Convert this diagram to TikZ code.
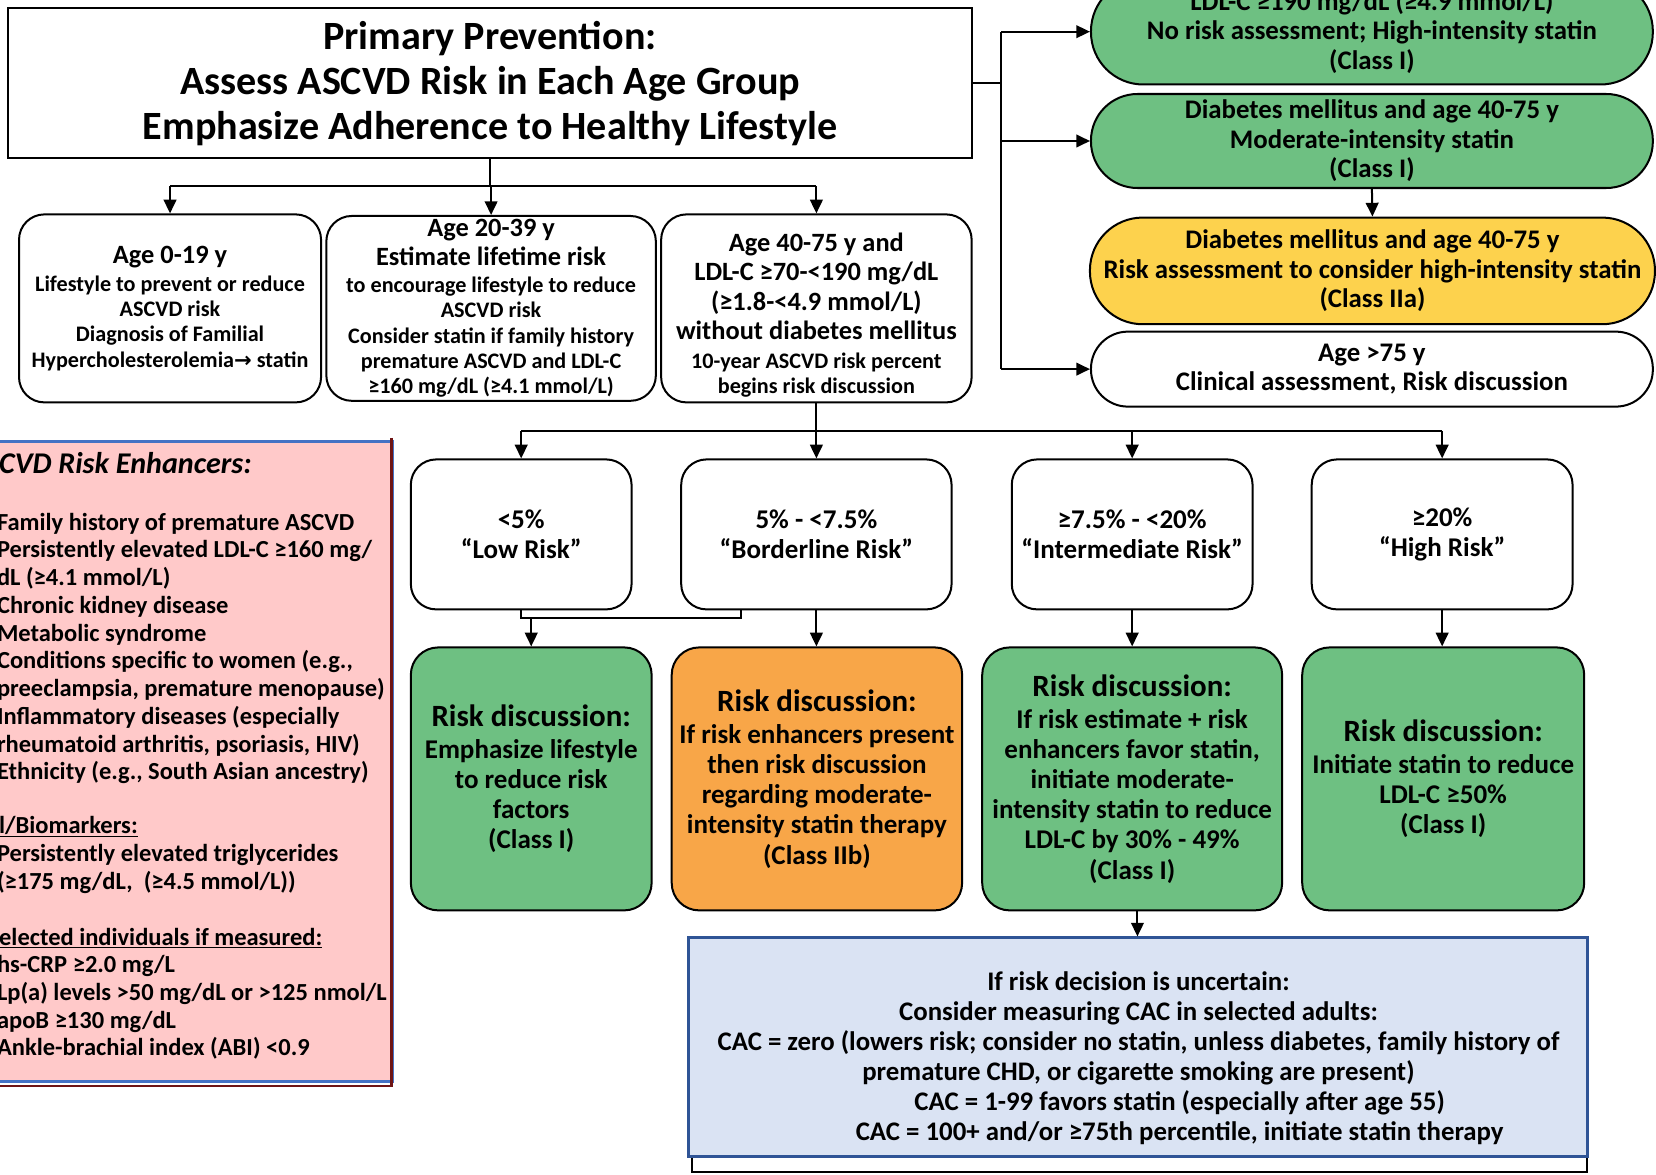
\documentclass[tikz,border=0pt]{standalone}
\usepackage{fontspec}
\setmainfont{Carlito}
\newfontfamily\symfont{DejaVu Sans}
\usetikzlibrary{arrows.meta,calc}

\definecolor{gfill}{RGB}{110,192,130}
\definecolor{ofill}{RGB}{248,166,72}
\definecolor{yfill}{RGB}{253,210,77}
\definecolor{pfill}{RGB}{255,201,201}
\definecolor{bfill}{RGB}{218,227,243}
\definecolor{bline}{RGB}{47,84,150}
\definecolor{pline}{RGB}{68,114,196}
\definecolor{dred}{RGB}{110,20,20}

\newcommand\fsMain{\fontsize{38}{42.5}\selectfont}
\newcommand\fsPill{\fontsize{25.4}{28}\selectfont}
\newcommand\fsHead{\fontsize{25}{28}\selectfont}
\newcommand\fsSmall{\fontsize{21}{24}\selectfont}
\newcommand\fsRisk{\fontsize{25.6}{29}\selectfont}
\newcommand\fsDisc{\fontsize{29.3}{34}\selectfont}
\newcommand\fsBody{\fontsize{25.6}{28.5}\selectfont}
\newcommand\fsCac{\fontsize{25.4}{28.5}\selectfont}
\newcommand\fsList{\fontsize{23.2}{26.3}\selectfont}
\newcommand\fsListHead{\fontsize{28.5}{32}\selectfont}

\tikzset{
  base/.style={draw=black, line width=1.9pt, align=center, inner sep=0pt, font=\bfseries},
  plainbox/.style={base, fill=white, rounded corners=24pt},
  pillbox/.style={base, rounded corners=#1},
  discbox/.style={base, rounded corners=26pt, font=\bfseries\fsBody},
  link/.style={line width=1.9pt},
  arr/.style={line width=1.9pt, -{Triangle[length=13pt,width=12pt]}},
  listtext/.style={anchor=west, inner sep=0pt, align=left, font=\bfseries\fsList},
}

\begin{document}
\begin{tikzpicture}[x=1pt,y=-1pt]
\useasboundingbox (0,0) rectangle (1568,1112);
\clip (0,0) rectangle (1568,1112);
\fill[white] (0,0) rectangle (1568,1112);

% ---- top box ----
\node[base, fill=white, minimum width=912pt, minimum height=142pt, font=\bfseries\fsMain] (main) at (464,79)
  {Primary Prevention:\\ Assess ASCVD Risk in Each Age Group\\ Emphasize Adherence to Healthy Lifestyle};

% ---- right-hand column ----
\node[pillbox=49.5pt, fill=gfill, minimum width=532pt, minimum height=100pt, font=\bfseries\fsPill] (pill1) at (1299,30)
  {LDL-C ≥190 mg/dL (≥4.9 mmol/L)\\ No risk assessment; High-intensity statin\\ (Class I)};
\node[pillbox=44pt, fill=gfill, minimum width=532pt, minimum height=89pt, font=\bfseries\fsPill] (pill2) at (1299,133.5)
  {Diabetes mellitus and age 40-75 y\\ Moderate-intensity statin\\ (Class I)};
\node[pillbox=50pt, fill=yfill, minimum width=535pt, minimum height=101pt, font=\bfseries\fsPill] (pill3) at (1299.5,256.5)
  {Diabetes mellitus and age 40-75 y\\ Risk assessment to consider high-intensity statin\\ (Class IIa)};
\node[pillbox=35pt, fill=white, minimum width=532pt, minimum height=71pt, font=\bfseries\fsPill] (pill4) at (1299,349.5)
  {Age >75 y\\ Clinical assessment, Risk discussion};

% ---- age groups ----
\node[plainbox, minimum width=286pt, minimum height=178pt, font=\bfseries\fsSmall] (ageA) at (161,292)
  {{\fsHead Age 0-19 y}\\[2pt] Lifestyle to prevent or reduce\\ ASCVD risk\\ Diagnosis of Familial\\ Hypercholesterolemia{\symfont\fontsize{20}{20}\selectfont →} statin};
\node[plainbox, minimum width=312pt, minimum height=175pt, font=\bfseries\fsSmall] (ageB) at (465,292)
  {{\fsHead Age 20-39 y}\\[3pt] {\fsHead Estimate lifetime risk}\\[2pt] to encourage lifestyle to reduce\\ ASCVD risk\\ Consider statin if family history\\ premature ASCVD and LDL-C\\ ≥160 mg/dL (≥4.1 mmol/L)};
\node[plainbox, minimum width=294pt, minimum height=178pt, font=\bfseries\fsHead] (ageC) at (773,292)
  {\rule{0pt}{30pt}Age 40-75 y and\\ LDL-C ≥70-<190 mg/dL\\ (≥1.8-<4.9 mmol/L)\\ without diabetes mellitus\\[-1pt] {\fsSmall 10-year ASCVD risk percent}\\[-4pt] {\fsSmall begins risk discussion}};

% ---- 10-year risk categories ----
\node[plainbox, minimum width=209pt, minimum height=142pt, font=\bfseries\fsRisk] (R1) at (493.5,506)
  {<5\%\\ “Low Risk”};
\node[plainbox, minimum width=256pt, minimum height=142pt, font=\bfseries\fsRisk] (R2) at (773,506)
  {5\% - <7.5\%\\ “Borderline Risk”};
\node[plainbox, minimum width=228pt, minimum height=142pt, font=\bfseries\fsRisk] (R3) at (1072,506)
  {≥7.5\% - <20\%\\ “Intermediate Risk”};
\node[plainbox, minimum width=247pt, minimum height=142pt, font=\bfseries\fsRisk] (R4) at (1365.5,506)
  {≥20\%\\ “High Risk”};

% ---- risk discussions ----
\node[discbox, fill=gfill, minimum width=228pt, minimum height=249pt] (G1) at (503,737.5)
  {{\fsDisc Risk discussion:}\\[2pt] Emphasize lifestyle\\ to reduce risk\\ factors\\ (Class I)};
\node[discbox, fill=ofill, minimum width=275pt, minimum height=249pt] (O2) at (773.5,737.5)
  {{\fsDisc Risk discussion:}\\[2pt] If risk enhancers present\\ then risk discussion\\ regarding moderate-\\ intensity statin therapy\\ (Class IIb)};
\node[discbox, fill=gfill, minimum width=284pt, minimum height=249pt] (G3) at (1072,737.5)
  {{\fsDisc Risk discussion:}\\[2pt] If risk estimate + risk\\ enhancers favor statin,\\ initiate moderate-\\ intensity statin to reduce\\ LDL-C by 30\% - 49\%\\ (Class I)};
\node[discbox, fill=gfill, minimum width=267pt, minimum height=249pt] (G4) at (1366.5,737.5)
  {{\fsDisc Risk discussion:}\\[2pt] Initiate statin to reduce\\ LDL-C ≥50\%\\ (Class I)};

% ---- coronary artery calcium panel ----
\node[draw=black, line width=1.9pt, fill=white, minimum width=848pt, minimum height=120pt] (cacback) at (1079,1050) {};
\node[draw=bline, line width=2.6pt, fill=bfill, minimum width=851pt, minimum height=207pt] (cac) at (1077.5,991.5) {};
\node[align=center, inner sep=0pt, font=\bfseries\fsCac] (cactext) at (1078,1002)
  {If risk decision is uncertain:\\ Consider measuring CAC in selected adults:\\ CAC = zero (lowers risk; consider no statin, unless diabetes, family history of\\ premature CHD, or cigarette smoking are present)\\ \hspace*{78pt}CAC = 1-99 favors statin (especially after age 55)\\ \hspace*{78pt}CAC = 100+ and/or ≥75th percentile, initiate statin therapy};

% ---- risk enhancer panel ----
\node[fill=pfill, draw=pline, line width=2.6pt, minimum width=392pt, minimum height=606pt] (enh) at (176,721) {};
\draw[dred, line width=2.4pt] ($(enh.north east)+(-2.8,-2)$) -- ($(enh.south east)+(-2.8,2.8)$) -- ($(enh.south west)+(0,2.8)$);
\node[listtext, font=\bfseries\itshape\fsListHead] (enhhead) at (-1,438) {CVD Risk Enhancers:};
\node[listtext] (enhlist) at (-3,614)
  {Family history of premature ASCVD\\ Persistently elevated LDL-C ≥160 mg/\\ dL (≥4.1 mmol/L)\\ Chronic kidney disease\\ Metabolic syndrome\\ Conditions specific to women (e.g.,\\ preeclampsia, premature menopause)\\ Inflammatory diseases (especially\\ rheumatoid arthritis, psoriasis, HIV)\\ Ethnicity (e.g., South Asian ancestry)};
\node[listtext] (lipid) at (-1,783) {\underline{l/Biomarkers:}};
\node[listtext] (lipidlist) at (-3,823) {Persistently elevated triglycerides\\ (≥175 mg/dL,\ \ (≥4.5 mmol/L))};
\node[listtext] (sel) at (-1,888) {\underline{elected individuals if measured:}};
\node[listtext] (sellist) at (-3,954) {hs-CRP ≥2.0 mg/L\\ Lp(a) levels >50 mg/dL or >125 nmol/L\\ apoB ≥130 mg/dL\\ Ankle-brachial index (ABI) <0.9};

% ---- connectors ----
\coordinate (agebus) at (0,176);
\coordinate (rbus) at (948,0);
\coordinate (riskbus) at (0,408);
\coordinate (brk) at (0,585.5);
\coordinate (r2leg) at (702,577);
\coordinate (g3out) at ($(G3.south)+(5,0)$);

\draw[link] (main.south) -- (main.south |- agebus);
\draw[link] (ageA.north |- agebus) -- (ageC.north |- agebus);
\foreach \n in {ageA,ageB,ageC} \draw[arr] (\n.north |- agebus) -- (\n.north);

\draw[link] (main.east) -- (main.east -| rbus);
\draw[link] (rbus |- pill1.west) -- (rbus |- pill4.west);
\foreach \p in {pill1,pill2,pill4} \draw[arr] (rbus |- \p.west) -- (\p.west);
\draw[arr] (pill2.south) -- (pill3.north);

\draw[link] (ageC.south) -- (ageC.south |- riskbus);
\draw[link] (R1.north |- riskbus) -- (R4.north |- riskbus);
\foreach \r in {R1,R2,R3,R4} \draw[arr] (\r.north |- riskbus) -- (\r.north);

\draw[link] (R1.south) -- (R1.south |- brk) -- (r2leg |- brk) -- (r2leg);
\draw[arr] (G1.north |- brk) -- (G1.north);
\draw[arr] (R2.south) -- (R2.south |- O2.north);
\draw[arr] (R3.south) -- (R3.south |- G3.north);
\draw[arr] (R4.south) -- (R4.south |- G4.north);
\draw[arr] (g3out) -- (g3out |- cac.north);
\end{tikzpicture}
\end{document}
